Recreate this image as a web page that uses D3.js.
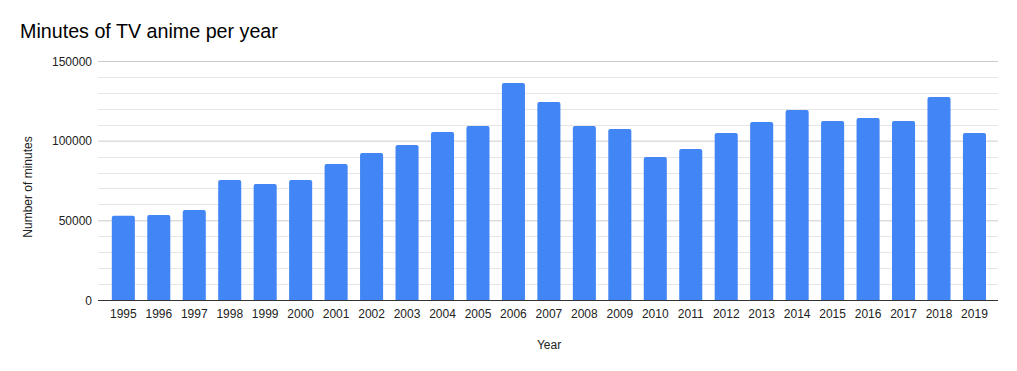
<!DOCTYPE html>
<html>
<head>
<meta charset="utf-8">
<script src="https://cdn.jsdelivr.net/npm/d3@7"></script>
<style>
  body { margin: 0; background: #fff; }
  svg { display: block; font-family: Arial, "Liberation Sans", sans-serif; }
</style>
</head>
<body>
<svg id="chart" width="1017" height="371"></svg>
<script>
const years = ["1995", "1996", "1997", "1998", "1999", "2000", "2001", "2002", "2003", "2004",
  "2005", "2006", "2007", "2008", "2009", "2010", "2011", "2012", "2013", "2014",
  "2015", "2016", "2017", "2018", "2019"];
const minutes = [52800, 53400, 56500, 75300, 72800, 75300, 85400, 92300, 97300, 105400,
  109200, 136200, 124300, 109200, 107300, 89700, 94800, 104800, 111700, 119200,
  112300, 114200, 112300, 127400, 104800];
const majorTicks = [0, 50000, 100000, 150000];
const minorTicks = d3.range(0, 150001, 10000);

const svg = d3.select("#chart");
const gridLeft = 98, gridRight = 998;

const x = d3.scaleBand().domain(years).range([105.6, 992.2]).paddingInner(0.35).paddingOuter(0.175);
const y = d3.scaleLinear().domain([0, 150000]).range([300, 61]);

// title
svg.append("text")
  .attr("x", 20).attr("y", 38)
  .style("font-size", "19.7px").style("fill", "#000")
  .text("Minutes of TV anime per year");

// minor grid
svg.append("g")
  .selectAll("line")
  .data(minorTicks.filter(t => !majorTicks.includes(t)))
  .join("line")
  .attr("x1", gridLeft).attr("x2", gridRight)
  .attr("y1", d => Math.round(y(d)) + 0.5).attr("y2", d => Math.round(y(d)) + 0.5)
  .attr("stroke", "#e6e6e6");

// y axis with major grid
const yAxis = svg.append("g")
  .attr("transform", `translate(${gridLeft},0)`)
  .call(d3.axisLeft(y).tickValues(majorTicks).tickSize(-(gridRight - gridLeft)).tickPadding(6).tickFormat(d3.format("d")));
yAxis.select(".domain").remove();
yAxis.selectAll(".tick line").attr("stroke", "#cccccc");
yAxis.selectAll(".tick text")
  .style("font-size", "12px").style("fill", "#222").style("font-family", "Arial, 'Liberation Sans', sans-serif")
  .attr("dy", "0.35em");

// bars
const r = 2;
svg.append("g")
  .selectAll("path")
  .data(years.map((yr, i) => ({ yr, v: minutes[i] })))
  .join("path")
  .attr("fill", "#4285f4")
  .attr("d", d => {
    const x0 = x(d.yr), w = x.bandwidth(), top = y(d.v), bot = y(0);
    return `M${x0},${bot}V${top + r}Q${x0},${top} ${x0 + r},${top}H${x0 + w - r}Q${x0 + w},${top} ${x0 + w},${top + r}V${bot}Z`;
  });

// x axis
const xAxis = svg.append("g")
  .attr("transform", "translate(0,300)")
  .call(d3.axisBottom(x).tickSize(0).tickPadding(9));
xAxis.select(".domain").remove();
xAxis.selectAll(".tick text")
  .style("font-size", "12px").style("fill", "#222").style("font-family", "Arial, 'Liberation Sans', sans-serif");
svg.append("line")
  .attr("x1", gridLeft).attr("x2", gridRight)
  .attr("y1", 300.5).attr("y2", 300.5)
  .attr("stroke", "#333");

// axis titles
svg.append("text")
  .attr("x", 549).attr("y", 349)
  .attr("text-anchor", "middle")
  .style("font-size", "12px").style("fill", "#222")
  .text("Year");

svg.append("text")
  .attr("transform", "translate(32,187) rotate(-90)")
  .attr("text-anchor", "middle")
  .style("font-size", "12px").style("fill", "#222")
  .text("Number of minutes");
</script>
</body>
</html>
